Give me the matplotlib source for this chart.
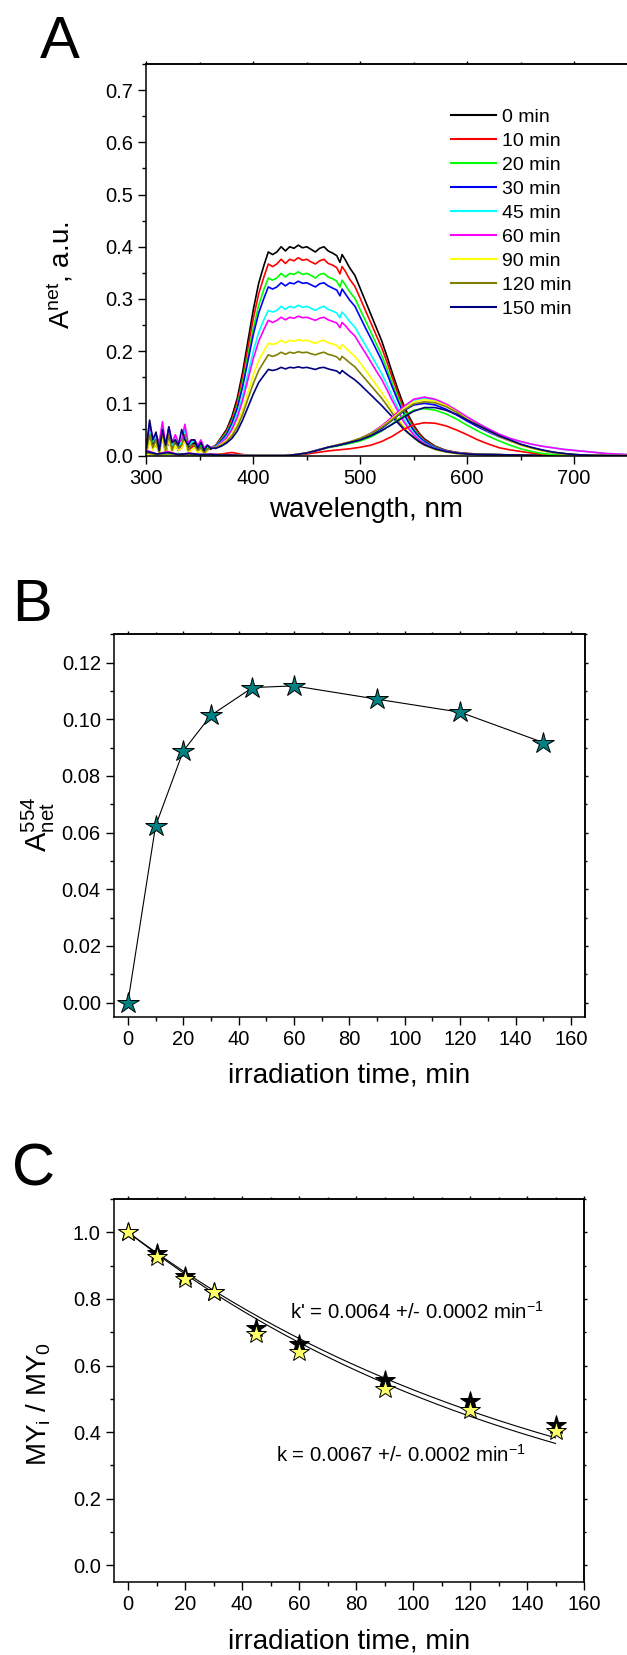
import matplotlib
matplotlib.use("Agg")
import matplotlib.pyplot as plt
import numpy as np
from matplotlib.ticker import MultipleLocator, FormatStrFormatter, NullFormatter

plt.rcParams['font.family'] = ['Liberation Sans', 'DejaVu Sans']
plt.rcParams['mathtext.fontset'] = 'custom'
plt.rcParams['mathtext.rm'] = 'Liberation Sans'
plt.rcParams['mathtext.it'] = 'Liberation Sans:italic'
plt.rcParams['mathtext.default'] = 'regular'

# ---------------- Panel A data ----------------
times_label = ["0 min", "10 min", "20 min", "30 min", "45 min", "60 min", "90 min", "120 min", "150 min"]
colors = ["#000000", "#FF0000", "#00FF00", "#0000FF", "#00FFFF", "#FF00FF", "#FFFF00", "#808000", "#000080"]

wl_noise = [300, 303, 306, 309, 312, 315, 318, 321, 324, 327, 330, 333, 336, 339, 342, 345, 348, 351, 354, 357, 360]
wl_main = [365, 370, 375, 380, 385, 390, 395, 400, 405, 410,
           414, 418, 422, 426, 430, 434, 438, 442, 446, 450, 454, 458, 462, 466, 470, 474, 478, 481, 483, 486,
           490, 495, 500, 505, 510, 515, 520, 525, 530, 535, 540, 545, 550, 555, 560, 570, 580, 590, 600, 620, 650, 700, 750]

noise_0 = [0.01, 0.045, 0.02, 0.035, 0.008, 0.04, 0.01, 0.035, 0.012, 0.03, 0.015, 0.02, 0.04, 0.015, 0.02, 0.025, 0.01, 0.02, 0.008, 0.015, 0.012]
noise_10 = [0.005, 0.03, 0.015, 0.02, 0.01, 0.035, 0.005, 0.03, 0.01, 0.02, 0.01, 0.015, 0.03, 0.01, 0.015, 0.02, 0.01, 0.015, 0.005, 0.012, 0.015]
noise_20 = [0.02, 0.04, 0.025, 0.03, 0.015, 0.045, 0.01, 0.04, 0.02, 0.03, 0.02, 0.025, 0.045, 0.02, 0.025, 0.03, 0.015, 0.02, 0.01, 0.015, 0.015]
noise_30 = [0.01, 0.035, 0.02, 0.03, 0.01, 0.04, 0.005, 0.03, 0.015, 0.025, 0.01, 0.02, 0.035, 0.01, 0.02, 0.02, 0.01, 0.015, 0.005, 0.01, 0.015]
noise_45 = [0.015, 0.05, 0.03, 0.035, 0.02, 0.05, 0.015, 0.045, 0.02, 0.035, 0.02, 0.025, 0.05, 0.02, 0.025, 0.03, 0.02, 0.025, 0.015, 0.02, 0.016]
noise_60 = [0.02, 0.06, 0.035, 0.04, 0.025, 0.065, 0.02, 0.055, 0.025, 0.04, 0.025, 0.03, 0.06, 0.025, 0.03, 0.03, 0.02, 0.03, 0.015, 0.02, 0.016]
noise_90 = [0.005, 0.03, 0.01, 0.025, 0.0, 0.035, 0.005, 0.03, 0.005, 0.02, 0.01, 0.015, 0.03, 0.005, 0.01, 0.015, 0.005, 0.01, 0.0, 0.01, 0.015]
noise_120 = [0.01, 0.04, 0.015, 0.03, 0.005, 0.045, 0.01, 0.04, 0.01, 0.03, 0.015, 0.02, 0.04, 0.01, 0.02, 0.02, 0.01, 0.015, 0.005, 0.012, 0.015]
noise_150 = [0.015, 0.068, 0.03, 0.045, 0.01, 0.05, 0.02, 0.055, 0.025, 0.03, 0.02, 0.05, 0.03, 0.02, 0.03, 0.03, 0.015, 0.025, 0.01, 0.02, 0.014]

my_0 = [0.02, 0.035, 0.05, 0.075, 0.11, 0.16, 0.22, 0.28, 0.33, 0.365,
        0.39, 0.385, 0.39, 0.40, 0.392, 0.40, 0.397, 0.403, 0.398, 0.40, 0.395, 0.39, 0.397, 0.40, 0.392, 0.388, 0.383, 0.37, 0.385, 0.375,
        0.36, 0.345, 0.32, 0.295, 0.27, 0.245, 0.22, 0.19, 0.158, 0.128, 0.10, 0.077, 0.058, 0.043, 0.032, 0.018, 0.01, 0.006, 0.004, 0.002, 0.001, 0.0, 0.0]
my_10 = [0.02, 0.033, 0.047, 0.07, 0.103, 0.15, 0.207, 0.263, 0.31, 0.343,
         0.367, 0.362, 0.367, 0.376, 0.368, 0.376, 0.373, 0.379, 0.374, 0.376, 0.371, 0.367, 0.373, 0.376, 0.368, 0.365, 0.36, 0.348, 0.362, 0.353,
         0.338, 0.324, 0.301, 0.277, 0.254, 0.23, 0.207, 0.179, 0.149, 0.12, 0.094, 0.073, 0.055, 0.041, 0.03, 0.017, 0.01, 0.006, 0.004, 0.002, 0.001, 0.0, 0.0]
my_20 = [0.019, 0.031, 0.044, 0.065, 0.096, 0.14, 0.192, 0.244, 0.288, 0.319,
         0.34, 0.336, 0.34, 0.349, 0.342, 0.349, 0.347, 0.352, 0.347, 0.349, 0.345, 0.34, 0.347, 0.349, 0.342, 0.339, 0.334, 0.323, 0.336, 0.327,
         0.314, 0.301, 0.279, 0.258, 0.236, 0.214, 0.192, 0.166, 0.138, 0.112, 0.087, 0.067, 0.051, 0.038, 0.028, 0.016, 0.009, 0.005, 0.003, 0.002, 0.001, 0.0, 0.0]
my_30 = [0.018, 0.029, 0.041, 0.062, 0.091, 0.132, 0.182, 0.232, 0.273, 0.302,
         0.323, 0.319, 0.323, 0.331, 0.325, 0.331, 0.329, 0.334, 0.33, 0.331, 0.327, 0.323, 0.329, 0.331, 0.325, 0.321, 0.317, 0.306, 0.319, 0.31,
         0.298, 0.286, 0.265, 0.244, 0.224, 0.203, 0.182, 0.157, 0.131, 0.106, 0.083, 0.064, 0.048, 0.036, 0.027, 0.015, 0.009, 0.005, 0.003, 0.002, 0.001, 0.0, 0.0]
my_45 = [0.017, 0.026, 0.036, 0.054, 0.079, 0.114, 0.157, 0.2, 0.236, 0.261,
         0.278, 0.275, 0.278, 0.286, 0.28, 0.286, 0.283, 0.288, 0.284, 0.286, 0.282, 0.278, 0.283, 0.286, 0.28, 0.277, 0.273, 0.264, 0.275, 0.268,
         0.257, 0.246, 0.228, 0.211, 0.193, 0.175, 0.157, 0.136, 0.113, 0.092, 0.072, 0.056, 0.042, 0.032, 0.024, 0.014, 0.008, 0.005, 0.003, 0.002, 0.001, 0.0, 0.0]
my_60 = [0.016, 0.025, 0.034, 0.05, 0.073, 0.106, 0.146, 0.186, 0.219, 0.242,
         0.259, 0.255, 0.259, 0.265, 0.26, 0.265, 0.263, 0.267, 0.264, 0.265, 0.262, 0.259, 0.263, 0.265, 0.26, 0.257, 0.254, 0.245, 0.255, 0.249,
         0.239, 0.229, 0.212, 0.196, 0.179, 0.162, 0.146, 0.126, 0.105, 0.086, 0.067, 0.052, 0.04, 0.03, 0.023, 0.013, 0.008, 0.005, 0.003, 0.002, 0.001, 0.0, 0.0]
my_90 = [0.015, 0.022, 0.029, 0.042, 0.061, 0.088, 0.121, 0.155, 0.182, 0.201,
         0.215, 0.213, 0.215, 0.221, 0.216, 0.221, 0.219, 0.222, 0.22, 0.221, 0.218, 0.215, 0.219, 0.221, 0.216, 0.214, 0.211, 0.204, 0.213, 0.207,
         0.199, 0.19, 0.177, 0.163, 0.149, 0.135, 0.121, 0.105, 0.088, 0.072, 0.057, 0.045, 0.035, 0.027, 0.021, 0.012, 0.007, 0.004, 0.003, 0.002, 0.001, 0.0, 0.0]
my_120 = [0.015, 0.02, 0.027, 0.038, 0.055, 0.079, 0.109, 0.138, 0.163, 0.18,
          0.193, 0.19, 0.193, 0.198, 0.194, 0.198, 0.196, 0.199, 0.197, 0.198, 0.195, 0.193, 0.196, 0.198, 0.194, 0.192, 0.189, 0.183, 0.19, 0.185,
          0.178, 0.17, 0.158, 0.146, 0.134, 0.122, 0.11, 0.096, 0.081, 0.067, 0.054, 0.043, 0.034, 0.026, 0.02, 0.012, 0.007, 0.004, 0.003, 0.002, 0.001, 0.0, 0.0]
my_150 = [0.014, 0.018, 0.024, 0.033, 0.047, 0.068, 0.093, 0.118, 0.14, 0.154,
          0.165, 0.163, 0.165, 0.169, 0.166, 0.169, 0.168, 0.17, 0.168, 0.169, 0.167, 0.165, 0.168, 0.169, 0.166, 0.164, 0.162, 0.157, 0.163, 0.158,
          0.152, 0.145, 0.136, 0.126, 0.116, 0.106, 0.096, 0.085, 0.074, 0.063, 0.052, 0.043, 0.035, 0.027, 0.021, 0.013, 0.008, 0.005, 0.003, 0.002, 0.001, 0.0, 0.0]

wl_prod = [300, 310, 320, 330, 340, 350, 360, 370, 380, 390, 400, 410, 420, 430, 440, 450, 460, 470, 480, 490,
           500, 510, 520, 530, 540, 550, 560, 570, 580, 590, 600, 610, 620, 630, 640, 650, 660, 670, 680, 690,
           700, 710, 720, 730, 740, 750]
prod_10 = [0.005, 0.002, 0.004, 0.001, 0.003, 0.001, 0.002, 0.003, 0.006, 0.002, 0.0, 0.0, 0.0, 0.0, 0.001, 0.003, 0.006, 0.009, 0.011, 0.013,
           0.016, 0.02, 0.027, 0.037, 0.05, 0.059, 0.063, 0.062, 0.057, 0.049, 0.04, 0.03, 0.022, 0.015, 0.011, 0.008, 0.005, 0.003, 0.001, 0.0,
           0.0, 0.0, 0.0, 0.0, 0.0, 0.0]
prod_20 = [0.004, 0.003, 0.002, 0.004, 0.001, 0.002, 0.001, 0.002, 0.001, 0.0, 0.0, 0.0, 0.0, 0.0, 0.002, 0.005, 0.01, 0.015, 0.019, 0.023,
           0.028, 0.036, 0.047, 0.061, 0.076, 0.087, 0.09, 0.087, 0.08, 0.07, 0.058, 0.047, 0.037, 0.028, 0.02, 0.013, 0.008, 0.004, 0.002, 0.0,
           0.0, 0.0, 0.0, 0.0, 0.0, 0.0]
prod_30 = [0.006, 0.002, 0.005, 0.002, 0.003, 0.001, 0.002, 0.001, 0.001, 0.0, 0.0, 0.0, 0.0, 0.0, 0.002, 0.005, 0.011, 0.016, 0.02, 0.025,
           0.031, 0.04, 0.052, 0.068, 0.085, 0.097, 0.1, 0.097, 0.089, 0.078, 0.066, 0.055, 0.045, 0.036, 0.028, 0.021, 0.015, 0.01, 0.006, 0.004,
           0.002, 0.001, 0.0, 0.0, 0.0, 0.0]
prod_45 = [0.008, 0.003, 0.006, 0.002, 0.004, 0.002, 0.003, 0.001, 0.001, 0.0, 0.0, 0.0, 0.0, 0.0, 0.002, 0.005, 0.01, 0.016, 0.021, 0.026,
           0.033, 0.043, 0.056, 0.073, 0.091, 0.106, 0.11, 0.106, 0.097, 0.086, 0.073, 0.062, 0.051, 0.041, 0.033, 0.027, 0.022, 0.018, 0.015, 0.012,
           0.01, 0.008, 0.006, 0.004, 0.003, 0.002]
prod_60 = [0.01, 0.003, 0.008, 0.002, 0.005, 0.002, 0.003, 0.001, 0.002, 0.0, 0.0, 0.0, 0.0, 0.0, 0.002, 0.005, 0.01, 0.016, 0.021, 0.026,
           0.033, 0.043, 0.057, 0.074, 0.093, 0.108, 0.112, 0.108, 0.099, 0.087, 0.074, 0.062, 0.051, 0.041, 0.033, 0.027, 0.022, 0.018, 0.015, 0.012,
           0.01, 0.008, 0.006, 0.004, 0.003, 0.002]
prod_90 = [0.003, 0.001, 0.004, 0.001, 0.002, 0.001, 0.001, 0.0, 0.001, 0.0, 0.0, 0.0, 0.0, 0.0, 0.002, 0.005, 0.01, 0.016, 0.021, 0.026,
           0.033, 0.042, 0.055, 0.071, 0.089, 0.103, 0.107, 0.104, 0.096, 0.084, 0.07, 0.058, 0.047, 0.037, 0.028, 0.02, 0.014, 0.009, 0.006, 0.003,
           0.001, 0.0, 0.0, 0.0, 0.0, 0.0]
prod_120 = [0.005, 0.002, 0.004, 0.002, 0.003, 0.001, 0.002, 0.001, 0.001, 0.0, 0.0, 0.0, 0.0, 0.0, 0.002, 0.005, 0.01, 0.016, 0.021, 0.026,
            0.033, 0.042, 0.054, 0.069, 0.086, 0.099, 0.103, 0.101, 0.094, 0.083, 0.069, 0.058, 0.047, 0.037, 0.029, 0.021, 0.015, 0.01, 0.006, 0.004,
            0.002, 0.001, 0.0, 0.0, 0.0, 0.0]
prod_150 = [0.008, 0.003, 0.006, 0.002, 0.004, 0.002, 0.002, 0.001, 0.001, 0.0, 0.0, 0.0, 0.0, 0.0, 0.002, 0.005, 0.01, 0.016, 0.02, 0.025,
            0.03, 0.038, 0.048, 0.06, 0.073, 0.085, 0.092, 0.092, 0.087, 0.079, 0.068, 0.058, 0.048, 0.038, 0.03, 0.022, 0.016, 0.011, 0.007, 0.004,
            0.002, 0.001, 0.0, 0.0, 0.0, 0.0]

noise_sets = [noise_0, noise_10, noise_20, noise_30, noise_45, noise_60, noise_90, noise_120, noise_150]
my_sets = [my_0, my_10, my_20, my_30, my_45, my_60, my_90, my_120, my_150]
prod_sets = [None, prod_10, prod_20, prod_30, prod_45, prod_60, prod_90, prod_120, prod_150]

# ---------------- Panel B data ----------------
t_B = [0, 10, 20, 30, 45, 60, 90, 120, 150]
A554 = [0.000, 0.0623, 0.0888, 0.1014, 0.1112, 0.1118, 0.1071, 0.1025, 0.0918]

# ---------------- Panel C data ----------------
t_C = [0, 10, 20, 30, 45, 60, 90, 120, 150]
MY_black = [1.0, 0.938, 0.869, 0.822, 0.712, 0.664, 0.558, 0.492, 0.420]
MY_yellow = [1.0, 0.927, 0.859, 0.820, 0.696, 0.641, 0.531, 0.465, 0.404]
k_prime = 0.0064
k_val = 0.0067

W, H = 627, 1655
fig = plt.figure(figsize=(W / 100, H / 100), dpi=100)


def fax(l, t, r, b):
    return fig.add_axes([l / W, 1 - b / H, (r - l) / W, (b - t) / H])


def style(ax, xmaj, xmin, ymaj, ymin, right=True):
    for s in ax.spines.values():
        s.set_linewidth(1.1)
    ax.xaxis.set_major_locator(MultipleLocator(xmaj))
    ax.xaxis.set_minor_locator(MultipleLocator(xmin))
    ax.yaxis.set_major_locator(MultipleLocator(ymaj))
    ax.yaxis.set_minor_locator(MultipleLocator(ymin))
    ax.tick_params(which='major', direction='out', length=5.5, width=1.0, labelsize=14.5, pad=4)
    ax.tick_params(which='minor', direction='out', length=3, width=1.0)
    # small mirrored ticks on top/right
    sx = ax.secondary_xaxis('top')
    sx.xaxis.set_major_locator(MultipleLocator(xmaj))
    sx.xaxis.set_minor_locator(MultipleLocator(xmin))
    sx.xaxis.set_major_formatter(NullFormatter())
    sx.tick_params(which='major', direction='out', length=2, width=1.0)
    sx.tick_params(which='minor', direction='out', length=1.2, width=1.0)
    sx.spines['top'].set_linewidth(1.1)
    if right:
        sy = ax.secondary_yaxis('right')
        sy.yaxis.set_major_locator(MultipleLocator(ymaj))
        sy.yaxis.set_minor_locator(MultipleLocator(ymin))
        sy.yaxis.set_major_formatter(NullFormatter())
        sy.tick_params(which='major', direction='out', length=2, width=1.0)
        sy.tick_params(which='minor', direction='out', length=1.2, width=1.0)
        sy.spines['right'].set_linewidth(1.1)


# ---------- Panel A ----------
axA = fax(146.4, 64, 627.6, 455.6)
for i in range(9):
    axA.plot(wl_noise + wl_main, noise_sets[i] + my_sets[i], color=colors[i], lw=1.2, label=times_label[i])
for i in range(1, 9):
    axA.plot(wl_prod, prod_sets[i], color=colors[i], lw=1.2)
axA.set_xlim(300, 750)
axA.set_ylim(0, 0.75)
axA.spines['right'].set_visible(False)
style(axA, 100, 50, 0.1, 0.05, right=False)
axA.yaxis.set_major_formatter(FormatStrFormatter('%.1f'))
axA.set_xlabel('wavelength, nm', fontsize=20)
axA.set_ylabel(r'A$^{net}$, a.u.', fontsize=20)
axA.xaxis.set_label_coords(0.457, -0.138)
axA.xaxis.label.set_va('center')
axA.yaxis.set_label_coords(-0.18, 0.46)
axA.yaxis.label.set_va('center')
leg = axA.legend(loc='upper left', bbox_to_anchor=(0.634, 0.887), frameon=False, fontsize=14,
                 handlelength=2.27, handletextpad=0.31, labelspacing=0.33, borderpad=0, borderaxespad=0)
for ln in leg.get_lines():
    ln.set_linewidth(1.5)

# ---------- Panel B ----------
axB = fax(114, 634.3, 584.8, 1016.8)
axB.plot(t_B, A554, color='black', lw=0.8, marker='*', markersize=16, markerfacecolor='#008080',
         markeredgecolor='black', markeredgewidth=0.7)
axB.set_xlim(-5, 165)
axB.set_ylim(-0.005, 0.13)
style(axB, 20, 10, 0.02, 0.01)
axB.yaxis.set_major_formatter(FormatStrFormatter('%.2f'))
axB.set_xlabel('irradiation time, min', fontsize=20)
axB.set_ylabel(r'A$_{net}^{554}$', fontsize=21)
axB.xaxis.set_label_coords(0.499, -0.154)
axB.xaxis.label.set_va('center')
axB.yaxis.set_label_coords(-0.161, 0.504)
axB.yaxis.label.set_va('center')

# ---------- Panel C ----------
axC = fax(114, 1199, 584, 1582)
tt = np.linspace(0, 150, 200)
axC.plot(tt, np.exp(-k_prime * tt), color='black', lw=0.8)
axC.plot(tt, np.exp(-k_val * tt), color='black', lw=0.8)
axC.plot(t_C, MY_black, ls='none', marker='*', markersize=15, markerfacecolor='black',
         markeredgecolor='black', markeredgewidth=0.7)
axC.plot(t_C, MY_yellow, ls='none', marker='*', markersize=15, markerfacecolor='#FFFF66',
         markeredgecolor='black', markeredgewidth=0.7)
axC.set_xlim(-5, 160)
axC.set_ylim(-0.05, 1.1)
style(axC, 20, 10, 0.2, 0.1)
axC.yaxis.set_major_formatter(FormatStrFormatter('%.1f'))
axC.text(56.8, 0.76, r"k' = 0.0064 +/- 0.0002 min$^{-1}$", fontsize=14.7, va='center', ha='left')
axC.text(51.9, 0.332, r"k = 0.0067 +/- 0.0002 min$^{-1}$", fontsize=14.7, va='center', ha='left')
axC.set_xlabel('irradiation time, min', fontsize=20)
axC.set_ylabel(r'MY$_i$ / MY$_0$', fontsize=20)
axC.xaxis.set_label_coords(0.5, -0.156)
axC.xaxis.label.set_va('center')
axC.yaxis.set_label_coords(-0.161, 0.464)
axC.yaxis.label.set_va('center')

# panel letters
fig.text(40 / W, 1 - 58.5 / H, 'A', fontsize=43, va='baseline', ha='left')
fig.text(12 / W, 1 - 621 / H, 'B', fontsize=43, va='baseline', ha='left')
fig.text(12 / W, 1 - 1186 / H, 'C', fontsize=43, va='baseline', ha='left')

fig.savefig('out.png', dpi=100)
